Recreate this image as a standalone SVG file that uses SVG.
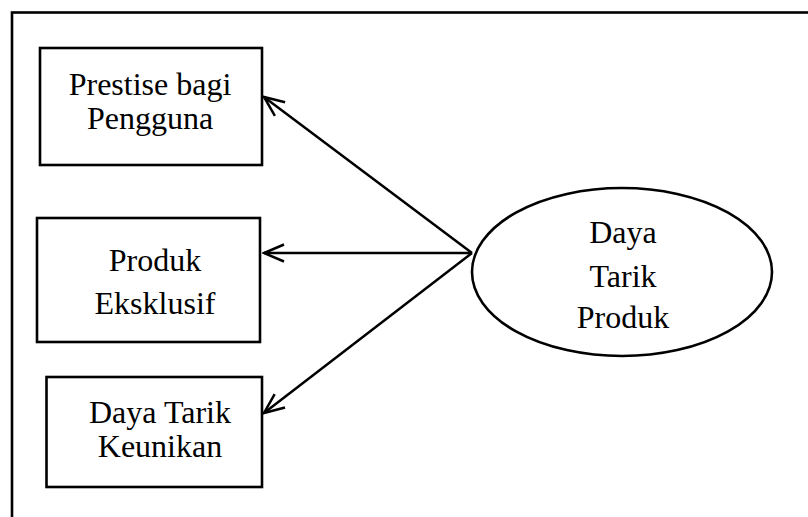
<svg xmlns="http://www.w3.org/2000/svg" width="808" height="517" viewBox="0 0 808 517">
  <style>
    .box { fill: #fff; stroke: #000; stroke-width: 2.6; }
    .lbl { font-family: "Liberation Serif", "Times New Roman", serif; font-size: 32px; fill: #000; text-anchor: middle; }
    .conn { stroke: #000; stroke-width: 2.5; fill: none; marker-end: url(#openArrow); }
  </style>
  <defs>
    <marker id="openArrow" markerUnits="userSpaceOnUse" viewBox="-22 -10 24 20" refX="0" refY="0" markerWidth="24" markerHeight="20" orient="auto-start-reverse">
      <path d="M -20 -8.5 L 0 0 L -20 8.5" fill="none" stroke="#000" stroke-width="2.5" stroke-linejoin="miter"/>
    </marker>
  </defs>
  <rect width="808" height="517" fill="#fff"/>
  <!-- outer frame, running off the right and bottom edges -->
  <rect x="12" y="12.5" width="830" height="540" fill="none" stroke="#000" stroke-width="2.6"/>

  <g id="connectors">
    <line class="conn" x1="472" y1="253" x2="264" y2="97"/>
    <line class="conn" x1="472" y1="253" x2="264" y2="253"/>
    <line class="conn" x1="472" y1="253" x2="264" y2="413"/>
  </g>

  <g id="prestise">
    <rect class="box" x="40" y="48" width="222" height="117"/>
    <text class="lbl" x="150" y="95">Prestise bagi</text>
    <text class="lbl" x="150" y="129">Pengguna</text>
  </g>

  <g id="eksklusif">
    <rect class="box" x="37" y="218" width="223" height="124"/>
    <text class="lbl" x="155" y="271">Produk</text>
    <text class="lbl" x="155" y="314">Eksklusif</text>
  </g>

  <g id="keunikan">
    <rect class="box" x="46.5" y="377" width="215.5" height="110"/>
    <text class="lbl" x="160" y="423">Daya Tarik</text>
    <text class="lbl" x="160" y="457">Keunikan</text>
  </g>

  <g id="daya-tarik-produk">
    <ellipse class="box" cx="622" cy="272" rx="150" ry="84"/>
    <text class="lbl" x="623" y="243">Daya</text>
    <text class="lbl" x="623" y="287">Tarik</text>
    <text class="lbl" x="623" y="328">Produk</text>
  </g>
</svg>
